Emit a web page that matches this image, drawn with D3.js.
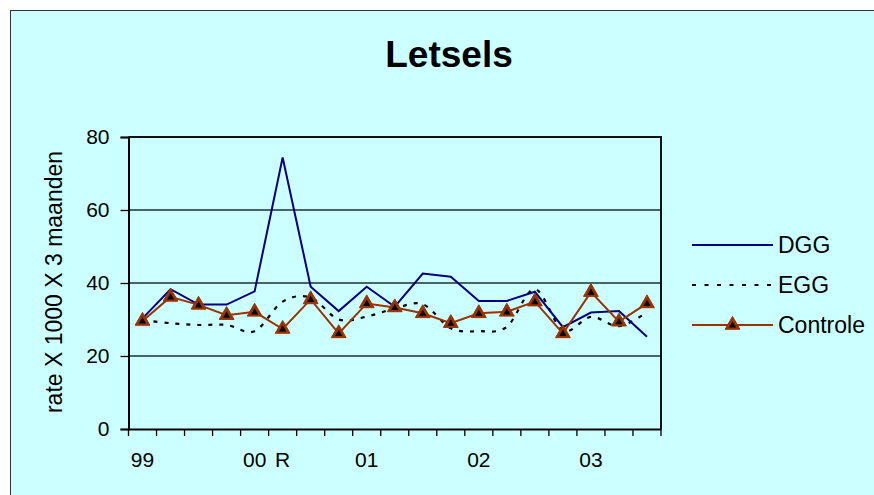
<!DOCTYPE html>
<html>
<head>
<meta charset="utf-8">
<script src="https://cdn.jsdelivr.net/npm/d3@7"></script>
<style>
html,body{margin:0;padding:0;background:#fff;}
svg{display:block;font-family:"Liberation Sans",Arial,sans-serif;}
</style>
</head>
<body>
<svg id="chart" width="874" height="495"></svg>
<script>
const categories = ["99","","","","00","R","","","01","","","","02","","","","03","",""];
const dgg      = [30.3,38.3,34.1,34.1,37.7,74.4,39.0,32.3,39.0,33.5,42.6,41.7,35.1,35.1,37.6,27.9,31.9,32.3,25.3];
const egg      = [29.8,29.0,28.5,28.5,26.8,34.9,36.0,30.0,30.8,33.0,34.2,27.6,26.8,28.0,38.3,27.0,30.7,28.2,32.0];
const controle = [29.6,36.2,34.0,31.2,32.1,27.4,35.5,26.2,34.4,33.3,31.7,29.0,31.7,32.1,34.9,26.2,37.5,29.4,34.4];
const yTicks = [0,20,40,60,80];
const seriesNames = ["DGG","EGG","Controle"];

const svg = d3.select("#chart");
const bg = "#CCFFFF";

// chart area background with border
svg.append("rect").attr("x",10.5).attr("y",10.5).attr("width",900).attr("height",600)
  .attr("fill",bg).attr("stroke","#333").attr("stroke-width",1);

const L = 128.5, R = 661, T = 137, B = 429;
const idx = categories.map((d,i)=>i);
const x = d3.scaleBand().domain(idx).range([L,R]);
const y = d3.scaleLinear().domain([0,80]).range([B,T]);
const cx = i => x(i) + x.bandwidth()/2;

// title
svg.append("text").attr("x",449).attr("y",66.5).attr("text-anchor","middle")
  .attr("font-size",37).attr("font-weight","bold").attr("fill","#000").text("Letsels");

// gridlines
svg.append("g").selectAll("line").data(yTicks.filter(d=>d>0 && d<80)).join("line")
  .attr("x1",L).attr("x2",R).attr("y1",d=>y(d)).attr("y2",d=>y(d))
  .attr("stroke","#1a3333").attr("stroke-width",1.3);

// frame top and right
svg.append("path").attr("d",`M${L},${T}H${R}V${B}`).attr("fill","none")
  .attr("stroke","#111").attr("stroke-width",2);

// y axis
const yAxis = d3.axisLeft(y).tickValues(yTicks).tickSize(8).tickPadding(11);
const gy = svg.append("g").attr("transform",`translate(${L},0)`).call(yAxis);
gy.select(".domain").attr("stroke","#000").attr("stroke-width",2);
gy.selectAll(".tick line").attr("stroke","#000").attr("stroke-width",1.3);
gy.selectAll("text").attr("font-size",21).attr("fill","#000")
  .attr("font-family","'Liberation Sans',Arial,sans-serif");

// x axis
const xAxis = d3.axisBottom(x).tickFormat(i=>categories[i]).tickSize(0).tickPadding(23);
const gx = svg.append("g").attr("transform",`translate(0,${B})`).call(xAxis);
gx.select(".domain").attr("stroke","#000").attr("stroke-width",2);
gx.selectAll("text").attr("font-size",21).attr("fill","#000")
  .attr("font-family","'Liberation Sans',Arial,sans-serif");
// boundary ticks
const bounds = idx.map(i=>x(i)).concat([R]);
svg.append("g").selectAll("line").data(bounds).join("line")
  .attr("x1",d=>d).attr("x2",d=>d).attr("y1",B).attr("y2",B+7)
  .attr("stroke","#000").attr("stroke-width",1.3);

// y title
svg.append("text").attr("transform",`translate(62,282) rotate(-90)`)
  .attr("text-anchor","middle").attr("font-size",23).attr("fill","#000")
  .text("rate X 1000 X 3 maanden");

// lines
const line = d3.line().x((d,i)=>cx(i)).y(d=>y(d));
const smooth = d3.line().x((d,i)=>cx(i)).y(d=>y(d)).curve(d3.curveCardinal.tension(0));

svg.append("path").datum(egg).attr("d",smooth).attr("fill","none")
  .attr("stroke","#000").attr("stroke-width",2.2).attr("stroke-dasharray","4,7");
svg.append("path").datum(dgg).attr("d",line).attr("fill","none")
  .attr("stroke","#000080").attr("stroke-width",2);
svg.append("path").datum(controle).attr("d",line).attr("fill","none")
  .attr("stroke","#993300").attr("stroke-width",2);

const tri = d3.symbol().type(d3.symbolTriangle);
function marker(g, px, py){
  g.append("path").attr("d",tri.size(95)()).attr("transform",`translate(${px},${py})`)
    .attr("fill","#993300").attr("stroke","#993300").attr("stroke-width",1);
  g.append("path").attr("d",tri.size(22)()).attr("transform",`translate(${px},${py+0.5})`)
    .attr("fill","#000");
}
const mg = svg.append("g");
controle.forEach((d,i)=>marker(mg,cx(i),y(d)));

// legend
const legY = [245,285,325];
const lg = svg.append("g");
seriesNames.forEach((name,k)=>{
  const ln = lg.append("line").attr("x1",692).attr("x2",773).attr("y1",legY[k]).attr("y2",legY[k])
    .attr("stroke-width",2);
  if(k===0) ln.attr("stroke","#000080");
  if(k===1) ln.attr("stroke","#000").attr("stroke-dasharray","4,8.5").attr("stroke-width",2.2);
  if(k===2) ln.attr("stroke","#993300");
  lg.append("text").attr("x",778).attr("y",legY[k]+8).attr("font-size",23).attr("fill","#000").text(name);
});
marker(lg,732.5,legY[2]);
</script>
</body>
</html>
